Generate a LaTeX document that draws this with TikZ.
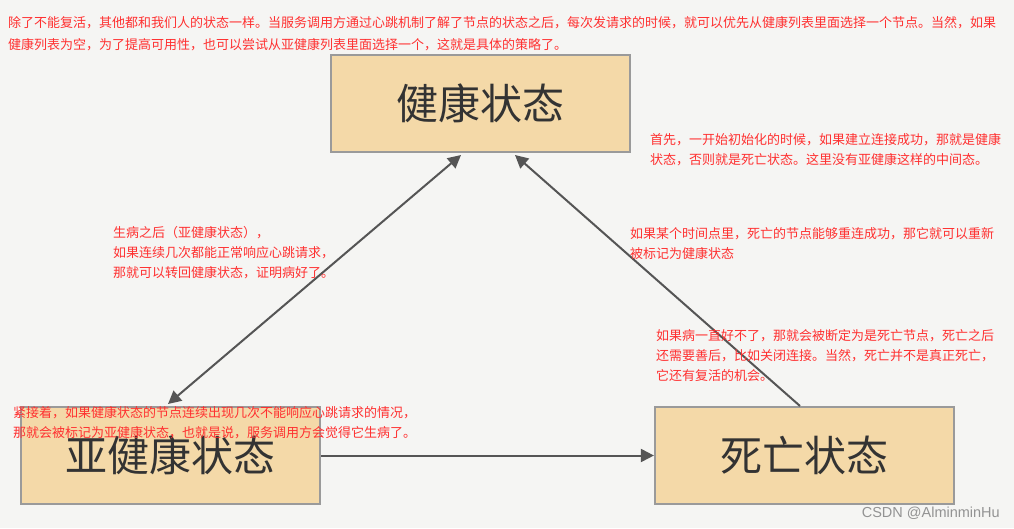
\documentclass[tikz,border=0pt]{standalone}
\usepackage{fontspec}
\setmainfont{Noto Sans CJK SC}
\newfontfamily\wmfont{Liberation Sans}
\usetikzlibrary{arrows.meta}
\definecolor{bgc}{HTML}{F5F5F3}
\definecolor{boxfill}{HTML}{F4D9A8}
\definecolor{boxline}{HTML}{9A9A9A}
\definecolor{arr}{HTML}{555555}
\definecolor{note}{HTML}{FF3030}
\definecolor{boxtext}{HTML}{333333}
\tikzset{
  statebox/.style={draw=boxline, line width=2.2pt, fill=boxfill, minimum width=299pt, minimum height=97pt, inner sep=0pt, text=boxtext, font=\fontsize{42}{42}\selectfont},
  conn/.style={draw=arr, line width=2pt, -{Triangle[length=13pt,width=13pt]}},
  conn2/.style={draw=arr, line width=2pt, {Triangle[length=13pt,width=13pt]}-{Triangle[length=13pt,width=13pt]}},
  notetext/.style={text=note, align=left, anchor=north west, inner sep=0pt, font=\fontsize{13}{20}\selectfont},
}
\begin{document}
\begin{tikzpicture}[x=1pt,y=1pt]
\fill[bgc] (0,0) rectangle (1014,-528);
\useasboundingbox (0,0) rectangle (1014,-528);
\node[statebox] (healthy) at (480.5,-103.5) {健康状态};
\node[statebox] (sub) at (170.5,-455.5) {亚健康状态};
\node[statebox] (dead) at (804.5,-455.5) {死亡状态};
\coordinate (s1) at (168,-404);
\coordinate (h1) at (461,-155);
\coordinate (d1) at (800,-406);
\coordinate (h2) at (515,-155);
\draw[conn2] (s1) -- (h1);
\draw[conn] (d1) -- (h2);
\draw[conn] (sub.east) -- (dead.west);
\node[notetext, font=\fontsize{13}{22}\selectfont] (t0) at (8,-16) {除了不能复活，其他都和我们人的状态一样。当服务调用方通过心跳机制了解了节点的状态之后，每次发请求的时候，就可以优先从健康列表里面选择一个节点。当然，如果\\健康列表为空，为了提高可用性，也可以尝试从亚健康列表里面选择一个，这就是具体的策略了。};
\node[notetext] (t1) at (113,-226) {生病之后（亚健康状态），\\如果连续几次都能正常响应心跳请求，\\那就可以转回健康状态，证明病好了。};
\node[notetext] (t2) at (650,-133) {首先，一开始初始化的时候，如果建立连接成功，那就是健康\\状态，否则就是死亡状态。这里没有亚健康这样的中间态。};
\node[notetext] (t3) at (630,-227) {如果某个时间点里，死亡的节点能够重连成功，那它就可以重新\\被标记为健康状态};
\node[notetext] (t4) at (656,-329) {如果病一直好不了，那就会被断定为是死亡节点，死亡之后\\还需要善后，比如关闭连接。当然，死亡并不是真正死亡，\\它还有复活的机会。};
\node[notetext] (t5) at (13,-406) {紧接着，如果健康状态的节点连续出现几次不能响应心跳请求的情况，\\那就会被标记为亚健康状态，也就是说，服务调用方会觉得它生病了。};
\node[anchor=east, inner sep=0pt, text=gray!85, font=\wmfont\fontsize{14.5}{14.5}\selectfont] (wm) at (1000,-513) {CSDN @AlminminHu};
\end{tikzpicture}
\end{document}
